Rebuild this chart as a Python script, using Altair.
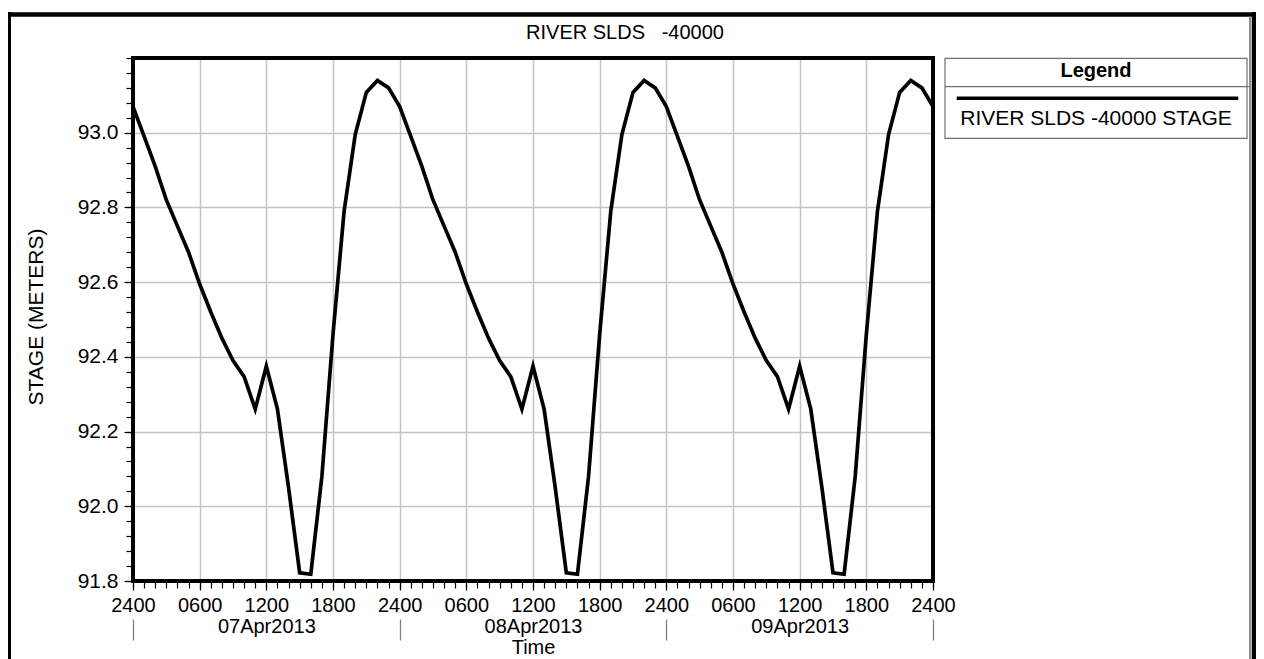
import altair as alt
import pandas as pd

# ---------------- data ----------------
TITLE = "RIVER SLDS\u00a0\u00a0\u00a0-40000"
SERIES = "RIVER SLDS -40000 STAGE"
Y_TITLE = "STAGE (METERS)"
X_TITLE = "Time"
LEGEND_TITLE = "Legend"

START = "2013-04-07 00:00"          # "2400" of 06Apr2013
END = "2013-04-10 00:00"

STAGE = [
    93.07, 92.99, 92.91, 92.82, 92.75, 92.68, 92.595, 92.52, 92.45, 92.39,
    92.347, 92.26, 92.375, 92.26, 92.05, 91.822, 91.818, 92.08, 92.46, 92.79,
    92.995, 93.108, 93.14, 93.12,
    93.07, 92.99, 92.91, 92.82, 92.75, 92.68, 92.595, 92.52, 92.45, 92.39,
    92.347, 92.26, 92.375, 92.26, 92.05, 91.822, 91.818, 92.08, 92.46, 92.79,
    92.995, 93.108, 93.14, 93.12,
    93.07, 92.99, 92.91, 92.82, 92.75, 92.68, 92.595, 92.52, 92.45, 92.39,
    92.347, 92.26, 92.375, 92.26, 92.05, 91.822, 91.818, 92.08, 92.46, 92.79,
    92.995, 93.108, 93.14, 93.12,
    93.07,
]

Y_DOMAIN = [91.8, 93.2]
Y_MAJOR = [91.8, 92.0, 92.2, 92.4, 92.6, 92.8, 93.0]
Y_GRID = [92.0, 92.2, 92.4, 92.6, 92.8, 93.0]
Y_MINOR = [round(91.8 + 0.04 * k, 2) for k in range(36)]

# ---------------- tables ----------------
stamps = pd.date_range(START, periods=len(STAGE), freq="h", tz="UTC")
df = pd.DataFrame({
    "time": stamps.strftime("%Y-%m-%dT%H:%M:%SZ"),
    "stage": STAGE,
    "series": SERIES,
})


def ms(ts):
    return int(ts.value // 1_000_000)


t0 = pd.Timestamp(START, tz="UTC")
t1 = pd.Timestamp(END, tz="UTC")
HOUR = pd.Timedelta(hours=1)
X_MAJOR = [ms(t0 + 6 * k * HOUR) for k in range(13)]
X_GRID = X_MAJOR[1:-1]
X_MINOR = [ms(t0 + k * HOUR) for k in range(73)]
X_DAYS = [ms(t0 + 24 * k * HOUR) for k in range(4)]
X_DAYMID = [ms(t0 + (12 + 24 * k) * HOUR) for k in range(3)]

FONT = "Liberation Sans"
x_scale = alt.Scale(type="utc", domain=[ms(t0), ms(t1)], nice=False)
y_scale = alt.Scale(domain=Y_DOMAIN, nice=False, zero=False)

common = dict(domain=False, labelFlush=False, labelOverlap=False,
              labelColor="black", tickColor="black", titleColor="black")

major_x = alt.Axis(orient="bottom", values=X_MAJOR, grid=False,
                   labelExpr="utchours(datum.value) == 0 ? '2400' : utcFormat(datum.value, '%H%M')",
                   labelFontSize=20, labelPadding=5, tickSize=9, tickWidth=1.2,
                   title=X_TITLE, titleX=400, titleY=72, titleBaseline="alphabetic",
                   titleFontSize=20, titleFontWeight="normal", **common)
grid_x = alt.Axis(orient="bottom", values=X_GRID, grid=True, gridColor="#c4c4c4",
                  gridWidth=1.5, ticks=False, labels=False, domain=False, title=None)
minor_x = alt.Axis(orient="bottom", values=X_MINOR, grid=False, labels=False,
                   tickSize=7, tickWidth=1.2, tickColor="black", domain=False, title=None)
days_x = alt.Axis(orient="bottom", values=X_DAYS, grid=False, labels=False, offset=38,
                  tickSize=21, tickWidth=1.3, tickColor="#808080", domain=False, title=None)
daylab_x = alt.Axis(orient="bottom", values=X_DAYMID, grid=False, ticks=False, tickSize=0,
                    labelPadding=35, labelFontSize=20,
                    labelExpr="utcFormat(datum.value, '%d%b%Y')", title=None, **common)

major_y = alt.Axis(orient="left", values=Y_MAJOR, format=".1f", grid=False,
                   labelFontSize=21, labelPadding=6, tickSize=9, tickWidth=1.2,
                   title=Y_TITLE, titleX=-91, titleY=258.5, titleAngle=-90,
                   titleBaseline="alphabetic", titleFontSize=21, titleFontWeight="normal",
                   **common)
grid_y = alt.Axis(orient="left", values=Y_GRID, grid=True, gridColor="#c4c4c4",
                  gridWidth=1.5, ticks=False, labels=False, domain=False, title=None)
minor_y = alt.Axis(orient="left", values=Y_MINOR, grid=False, labels=False,
                   tickSize=7, tickWidth=1.2, tickColor="black", domain=False, title=None)

base = alt.Chart(df)

line = base.mark_line(color="black", strokeWidth=3.7, strokeJoin="miter").encode(
    x=alt.X("time:T", scale=x_scale, axis=major_x),
    y=alt.Y("stage:Q", scale=y_scale, axis=major_y),
)
grid_layer = base.mark_line(opacity=0).encode(
    x=alt.X("time:T", axis=grid_x), y=alt.Y("stage:Q", axis=grid_y))
minor_layer = base.mark_line(opacity=0).encode(
    x=alt.X("time:T", axis=minor_x), y=alt.Y("stage:Q", axis=minor_y))
days_layer = base.mark_line(opacity=0).encode(
    x=alt.X("time:T", axis=days_x), y=alt.Y("stage:Q", axis=None))
daylab_layer = base.mark_line(opacity=0).encode(
    x=alt.X("time:T", axis=daylab_x), y=alt.Y("stage:Q", axis=None))

one = alt.Chart(pd.DataFrame({"k": [0]}))

# plot frame (on top of grid lines)
frame = one.mark_rect(fill=None, stroke="black", strokeWidth=4).encode(
    x=alt.value(0), x2=alt.value("width"), y=alt.value(0), y2=alt.value("height"))

# outer window frame
outer_top = one.mark_rule(color="black", strokeWidth=4.5).encode(
    x=alt.value(-130), x2=alt.value(1125), y=alt.value(-43.5))
outer_left = one.mark_rule(color="black", strokeWidth=5).encode(
    x=alt.value(-124.5), y=alt.value(-46), y2=alt.value(620))
outer_right_gray = one.mark_rule(color="#8c8c8c", strokeWidth=2).encode(
    x=alt.value(1117), y=alt.value(-41.5), y2=alt.value(620))
outer_right = one.mark_rule(color="black", strokeWidth=4.5).encode(
    x=alt.value(1121), y=alt.value(-46), y2=alt.value(620))

title = one.mark_text(font=FONT, fontSize=20, align="center", baseline="alphabetic",
                      color="black").encode(
    x=alt.value(492), y=alt.value(-19), text=alt.value(TITLE))

# legend box
leg_box = one.mark_rect(fill="white", stroke="#707070", strokeWidth=1.2).encode(
    x=alt.value(812), x2=alt.value(1114), y=alt.value(0.3), y2=alt.value(80.3))
leg_div = one.mark_rule(color="#707070", strokeWidth=1.2).encode(
    x=alt.value(812), x2=alt.value(1116), y=alt.value(28.7))
leg_title = one.mark_text(font=FONT, fontSize=20, fontWeight="bold", align="center",
                          baseline="alphabetic", color="black").encode(
    x=alt.value(963), y=alt.value(19.3), text=alt.value(LEGEND_TITLE))
leg_line = one.mark_rule(color="black", strokeWidth=3.5).encode(
    x=alt.value(823.7), x2=alt.value(1105.3), y=alt.value(40.3))
leg_label = one.mark_text(font=FONT, fontSize=21, align="center", baseline="alphabetic",
                          color="black").encode(
    x=alt.value(963), y=alt.value(67.3), text=alt.value(SERIES))

chart = alt.layer(
    line, grid_layer, minor_layer, days_layer, daylab_layer,
    frame, outer_top, outer_left, outer_right_gray, outer_right,
    title, leg_box, leg_div, leg_title, leg_line, leg_label,
).resolve_axis(
    x="independent", y="independent"
).properties(
    width=800, height=523,
    padding={"left": 125, "top": 50, "right": 323, "bottom": 78},
    autosize=alt.AutoSizeParams(type="none"),
    background="white",
).configure(font=FONT).configure_view(stroke=None)

chart.save("out.html", embed_options={"renderer": "svg", "actions": False})
